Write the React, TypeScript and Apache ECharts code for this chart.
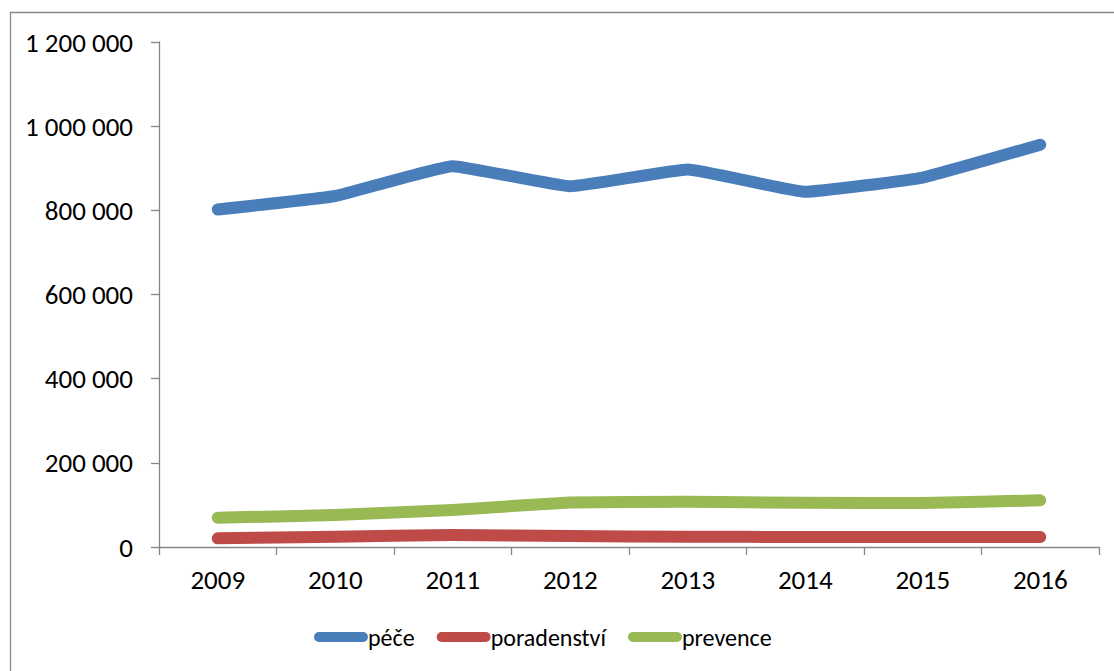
import React, { useEffect, useRef } from "react";
import * as echarts from "echarts";

const years = ["2009", "2010", "2011", "2012", "2013", "2014", "2015", "2016"];
const pece = [802000, 834000, 905000, 857000, 897000, 844000, 878000, 956000];
const poradenstvi = [20600, 24500, 28500, 26000, 24500, 23800, 23800, 23800];
const prevence = [69600, 76000, 88000, 106000, 107500, 105000, 104500, 111000];
const seriesNames = ["péče", "poradenství", "prevence"];
const colors = ["#4A7EBB", "#BE4B48", "#98B954"];

const FONT = "Carlito, Calibri, 'Noto Sans', sans-serif";

function fmt(v: number): string {
  return String(v).replace(/\B(?=(\d{3})+(?!\d))/g, " ");
}

export default function App() {
  const ref = useRef<HTMLDivElement>(null);
  useEffect(() => {
    document.body.style.margin = "0";
    const chart = echarts.init(ref.current!, null, { renderer: "svg" });
    const datasets = [pece, poradenstvi, prevence];
    chart.setOption({
      animation: false,
      backgroundColor: "#ffffff",
      textStyle: { fontFamily: FONT },
      graphic: [
        {
          type: "rect",
          shape: { x: 10.5, y: 12.5, width: 1300, height: 900 },
          style: { fill: "none", stroke: "#898989", lineWidth: 1.3 },
          silent: true,
        },
      ],
      grid: { left: 159, right: 15, top: 42, bottom: 124, containLabel: false },
      legend: {
        left: 309,
        top: 620,
        itemWidth: 54,
        itemHeight: 10,
        itemGap: 22,
        icon: "path://M5 0 L49 0 A5 5 0 0 1 49 10 L5 10 A5 5 0 0 1 5 0 Z",
        itemStyle: { borderWidth: 0 },
        textStyle: { fontFamily: FONT, fontSize: 24, color: "#000", padding: [0, 0, 0, -5] },
        data: seriesNames,
      },
      xAxis: {
        type: "category",
        data: years,
        boundaryGap: true,
        axisLine: { lineStyle: { color: "#868686", width: 1.3 } },
        axisTick: { show: true, length: 8, lineStyle: { color: "#868686", width: 1.3 } },
        axisLabel: { color: "#000", fontSize: 27, fontFamily: FONT, margin: 19 },
        splitLine: { show: false },
      },
      yAxis: {
        type: "value",
        min: 0,
        max: 1200000,
        interval: 200000,
        axisLine: { show: true, lineStyle: { color: "#868686", width: 1.3 } },
        axisTick: { show: true, length: 8, lineStyle: { color: "#868686", width: 1.3 } },
        axisLabel: {
          color: "#000",
          fontSize: 27,
          fontFamily: FONT,
          margin: 26,
          formatter: (v: number) => fmt(v),
        },
        splitLine: { show: false },
      },
      series: seriesNames.map((name, i) => ({
        name,
        type: "line",
        data: datasets[i],
        smooth: 0.1,
        showSymbol: false,
        symbol: "none",
        color: colors[i],
        lineStyle: { color: colors[i], width: 12, cap: "round", join: "round" },
        itemStyle: { color: colors[i] },
      })),
    });
    return () => chart.dispose();
  }, []);
  return <div ref={ref} style={{ width: 1114, height: 671 }} />;
}
